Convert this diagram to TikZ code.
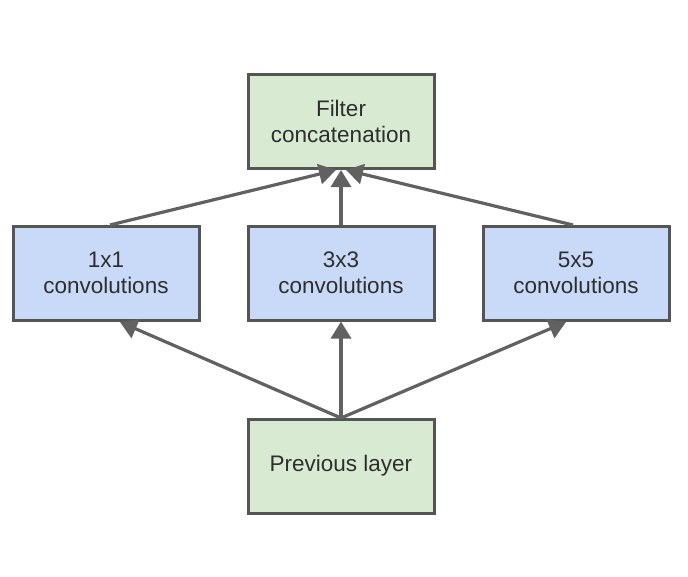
\documentclass[tikz,border=0pt]{standalone}
\usepackage{fontspec}
\setmainfont{Liberation Sans}
\usetikzlibrary{arrows.meta}
\definecolor{boxgreen}{HTML}{D9EAD3}
\definecolor{boxblue}{HTML}{C9DAF8}
\definecolor{edgegray}{HTML}{555555}
\definecolor{arrowgray}{HTML}{616161}
\definecolor{textgray}{HTML}{2E2E2E}
\begin{document}
\begin{tikzpicture}[x=1pt,y=-1pt,
  blk/.style={draw=edgegray,line width=3pt,minimum width=186pt,minimum height=94pt,
    align=center,text=textgray,font=\fontsize{22.5}{26}\selectfont,inner sep=0pt},
  gbox/.style={blk,fill=boxgreen},
  bbox/.style={blk,fill=boxblue},
  conn/.style={draw=arrowgray,line width=3.2pt,-{Triangle[length=17pt,width=20pt]}}]
\useasboundingbox (0,0) rectangle (688,576);
\node[gbox] (cat) at (341,121.5) {Filter\\concatenation};
\node[bbox] (c1) at (106,273) {1x1\\convolutions};
\node[bbox] (c3) at (341,273) {3x3\\convolutions};
\node[bbox] (c5) at (576,273) {5x5\\convolutions};
\node[gbox] (prev) at (341,466) {Previous layer};
\coordinate (catL) at (336,170);
\coordinate (catR) at (346,170);
\coordinate (c1t) at (110,225);
\coordinate (c5t) at (573,225);
\coordinate (c1b) at (120,322);
\coordinate (c5b) at (566,322);
\coordinate (prevt) at (341,418);
\draw[conn] (c1t) -- (catL);
\draw[conn] (c5t) -- (catR);
\draw[conn] (c3.north) -- (cat.south);
\draw[conn] (prevt) -- (c1b);
\draw[conn] (prevt) -- (c5b);
\draw[conn] (prev.north) -- (c3.south);
\end{tikzpicture}
\end{document}
